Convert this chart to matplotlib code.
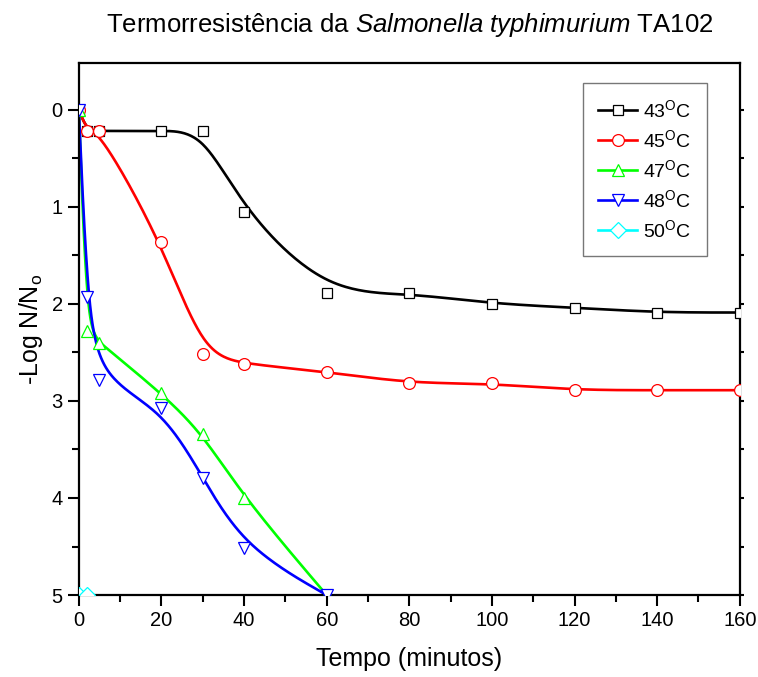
import numpy as np
import matplotlib
matplotlib.use('Agg')
import matplotlib.pyplot as plt
from matplotlib.ticker import MultipleLocator

plt.rcParams['font.family'] = ['Liberation Sans', 'DejaVu Sans']
plt.rcParams['mathtext.fontset'] = 'custom'
plt.rcParams['mathtext.rm'] = 'Liberation Sans'
plt.rcParams['mathtext.it'] = 'Liberation Sans:italic'

# tempo (minutos) e -log N/No para cada temperatura
t43 = [0, 2, 5, 20, 30, 40, 60, 80, 100, 120, 140, 160]
y43 = [0, 0.22, 0.22, 0.22, 0.22, 1.05, 1.89, 1.89, 2.0, 2.04, 2.09, 2.09]
t45 = [0, 2, 5, 20, 30, 40, 60, 80, 100, 120, 140, 160]
y45 = [0, 0.22, 0.22, 1.36, 2.52, 2.62, 2.70, 2.82, 2.82, 2.89, 2.89, 2.89]
t47 = [0, 2, 5, 20, 30, 40, 60]
y47 = [0, 2.28, 2.40, 2.92, 3.34, 4.0, 5.0]
t48 = [0, 2, 5, 20, 30, 40, 60]
y48 = [0, 1.93, 2.78, 3.07, 3.79, 4.51, 5.0]
t50 = [0, 2]
y50 = [5.0, 5.0]

labels = ['43$^{\\mathrm{O}}$C', '45$^{\\mathrm{O}}$C', '47$^{\\mathrm{O}}$C',
          '48$^{\\mathrm{O}}$C', '50$^{\\mathrm{O}}$C']
colors = ['black', 'red', '#00ff00', 'blue', 'cyan']
markers = ['s', 'o', '^', 'v', 'D']
msizes = [7, 8.5, 9, 9, 8]


def bspline(x, y, n=40):
    # cubic B-spline using the points as control points (clamped ends)
    px = np.concatenate([[x[0]] * 2, x, [x[-1]] * 2]).astype(float)
    py = np.concatenate([[y[0]] * 2, y, [y[-1]] * 2]).astype(float)
    u = np.linspace(0, 1, n)
    b0 = (1 - u) ** 3 / 6
    b1 = (3 * u ** 3 - 6 * u ** 2 + 4) / 6
    b2 = (-3 * u ** 3 + 3 * u ** 2 + 3 * u + 1) / 6
    b3 = u ** 3 / 6
    cx, cy = [], []
    for i in range(len(px) - 3):
        cx.append(b0 * px[i] + b1 * px[i + 1] + b2 * px[i + 2] + b3 * px[i + 3])
        cy.append(b0 * py[i] + b1 * py[i + 1] + b2 * py[i + 2] + b3 * py[i + 3])
    return np.concatenate(cx), np.concatenate(cy)


fig = plt.figure(figsize=(7.58, 6.77), dpi=100)
ax = fig.add_axes([0.104, 0.121, 0.872, 0.786])

series = [(t43, y43), (t45, y45), (t47, y47), (t48, y48), (t50, y50)]
for (t, y), c, m, ms, lab in zip(series, colors, markers, msizes, labels):
    if len(t) > 2:
        sx, sy = bspline(t, y)
    else:
        sx, sy = t, y
    ax.plot(sx, sy, color=c, lw=1.9, zorder=2)
    ax.plot(t, y, ls='none', marker=m, ms=ms, mfc='white', mec=c, mew=0.9, zorder=3)
    # legend proxy
    ax.plot([], [], color=c, lw=1.9, marker=m, ms=ms, mfc='white', mec=c, mew=0.9, label=lab)

ax.set_xlim(0, 160)
ax.set_ylim(5, -0.48)
ax.xaxis.set_major_locator(MultipleLocator(20))
ax.xaxis.set_minor_locator(MultipleLocator(10))
ax.yaxis.set_major_locator(MultipleLocator(1))
ax.yaxis.set_minor_locator(MultipleLocator(0.5))
ax.tick_params(which='major', direction='out', length=8, width=1.5, labelsize=14.5)
ax.tick_params(which='minor', direction='out', length=5, width=1.5)
ax.tick_params(axis='y', which='both', right=True, labelright=False)
ax.yaxis.set_tick_params(which='both', right=True)
for tk in ax.yaxis.get_major_ticks() + ax.yaxis.get_minor_ticks():
    tk.tick2line.set_markersize(3)
for sp in ax.spines.values():
    sp.set_linewidth(1.6)

ax.set_xlabel('Tempo (minutos)', fontsize=18, labelpad=12)
ax.set_ylabel('-Log N/N$_{\\mathrm{o}}$', fontsize=18, labelpad=5)
ax.set_title('Termorresistência da $\\mathit{Salmonella\\ typhimurium}$ TA102',
             fontsize=18.5, pad=22)

leg = ax.legend(loc='upper right', bbox_to_anchor=(0.95, 0.962), fontsize=14,
                handlelength=2.0, handletextpad=0.3, labelspacing=0.42,
                fancybox=False, borderpad=0.8, borderaxespad=0)
leg.get_frame().set_edgecolor('#555555')
leg.get_frame().set_linewidth(1.0)

fig.savefig('out.png', dpi=100)
